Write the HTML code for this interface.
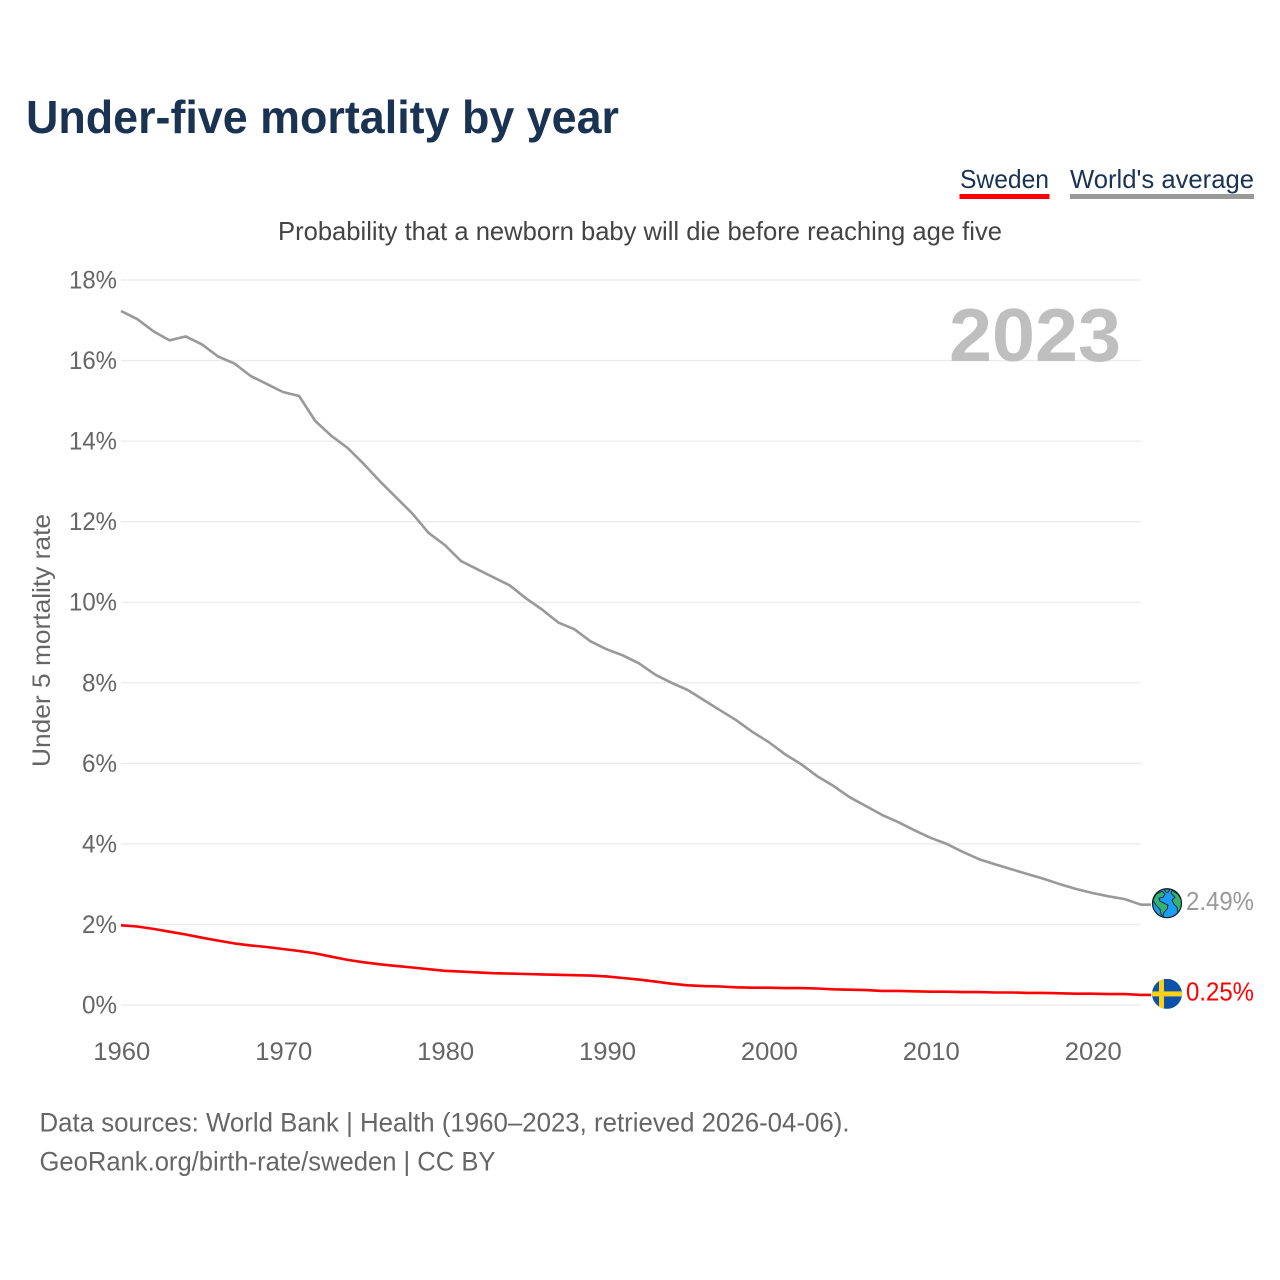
<!DOCTYPE html>
<html lang="en">
<head>
<meta charset="utf-8">
<title>Under-five mortality by year</title>
<style>
html,body{margin:0;padding:0;background:#fff;}
svg{display:block;}
text{font-family:"Liberation Sans",sans-serif;}
</style>
</head>
<body>
<svg id="chart" xmlns="http://www.w3.org/2000/svg" width="1280" height="1280" viewBox="0 0 1280 1280">
  <rect x="0" y="0" width="1280" height="1280" fill="#fff"/>
  <text x="26" y="133" font-size="46" font-weight="700" fill="#1a3353" textLength="593" lengthAdjust="spacingAndGlyphs">Under-five mortality by year</text>

  <g>
    <text x="960" y="188" font-size="26" fill="#1a3353" textLength="89" lengthAdjust="spacingAndGlyphs">Sweden</text>
    <rect x="959.5" y="194" width="90" height="5" fill="#ff0000"/>
  </g>
  <g>
    <text x="1070" y="188" font-size="26" fill="#1a3353" textLength="184" lengthAdjust="spacingAndGlyphs">World's average</text>
    <rect x="1070" y="194" width="184" height="5" fill="#999999"/>
  </g>

  <text x="278" y="240" font-size="26" fill="#444444" textLength="724" lengthAdjust="spacingAndGlyphs">Probability that a newborn baby will die before reaching age five</text>

  <g id="grid"></g>
  <text x="949" y="361" font-size="75" font-weight="700" fill="#bfbfbf" textLength="172" lengthAdjust="spacingAndGlyphs">2023</text>
  <g id="yticks"></g>
  <g id="xticks"></g>
  <text transform="translate(50,640.5) rotate(-90)" text-anchor="middle" font-size="25" fill="#666666" textLength="253" lengthAdjust="spacingAndGlyphs">Under 5 mortality rate</text>

  <polyline id="world-line" fill="none" stroke="#999999" stroke-width="2.6" stroke-linejoin="round"/>
  <polyline id="sweden-line" fill="none" stroke="#ff0000" stroke-width="2.6" stroke-linejoin="round"/>

  <defs>
    <clipPath id="flag-clip"><circle cx="0" cy="0" r="15"/></clipPath>
    <clipPath id="globe-clip"><circle cx="0" cy="0" r="14.5"/></clipPath>
  </defs>

  <g id="world-icon">
    <circle cx="0" cy="0" r="14.5" fill="#1e9bf5"/>
    <g clip-path="url(#globe-clip)" fill="#2fb56f" stroke="#123" stroke-width="0.9">
      <path d="M-14,-3 L-11,-9 L-5,-12 L-2,-9 L-4,-6 L-8,-5 L-7,-2 L-3,0 L1,2 L0,6 L-3,9 L-4,13 L-6,11 L-7,6 L-11,2 Z"/>
      <path d="M5,-13 L11,-9 L15,-2 L14,8 L11,10 L10,4 L7,1 L5,-3 L8,-6 L4,-10 Z"/>
      <path d="M-3,-14 L3,-14 L1,-11 L-1,-11 Z"/>
    </g>
    <circle cx="0" cy="0" r="14.5" fill="none" stroke="#101820" stroke-width="1.2"/>
  </g>

  <g id="sweden-icon">
    <g clip-path="url(#flag-clip)">
      <rect x="-15" y="-15" width="30" height="30" fill="#0b52a8"/>
      <rect x="-8" y="-15" width="5" height="30" fill="#fcd116"/>
      <rect x="-15" y="-2.5" width="30" height="5" fill="#fcd116"/>
    </g>
  </g>

  <text id="world-value" x="1186" font-size="26" fill="#999999" textLength="68" lengthAdjust="spacingAndGlyphs"></text>
  <text id="sweden-value" x="1186" font-size="26" fill="#ff0000" textLength="68" lengthAdjust="spacingAndGlyphs"></text>

  <text x="39.5" y="1131.5" font-size="27" fill="#666666" textLength="810" lengthAdjust="spacingAndGlyphs">Data sources: World Bank | Health (1960–2023, retrieved 2026-04-06).</text>
  <text x="39.5" y="1170.5" font-size="27" fill="#666666" textLength="456" lengthAdjust="spacingAndGlyphs">GeoRank.org/birth-rate/sweden | CC BY</text>
</svg>
<script>
const startYear = 1960;
const endYear = 2023;
const yTickValues = [0, 2, 4, 6, 8, 10, 12, 14, 16, 18];
const xTickValues = [1960, 1970, 1980, 1990, 2000, 2010, 2020];
const worldValues = [
  17.23, 17.03, 16.73, 16.50, 16.60, 16.40, 16.10, 15.93, 15.62, 15.42,
  15.22, 15.12, 14.50, 14.13, 13.83, 13.43, 13.00, 12.60, 12.20, 11.72,
  11.42, 11.02, 10.82, 10.62, 10.42, 10.10, 9.82, 9.50, 9.33, 9.03,
  8.83, 8.68, 8.48, 8.20, 8.00, 7.82, 7.57, 7.32, 7.07, 6.78,
  6.53, 6.23, 5.98, 5.68, 5.44, 5.16, 4.94, 4.72, 4.54, 4.34,
  4.15, 4.00, 3.80, 3.62, 3.49, 3.37, 3.25, 3.13, 3.00, 2.88,
  2.78, 2.70, 2.63, 2.49
];
const swedenValues = [
  1.98, 1.95, 1.89, 1.82, 1.75, 1.67, 1.60, 1.53, 1.48, 1.44,
  1.39, 1.34, 1.28, 1.20, 1.12, 1.06, 1.01, 0.97, 0.93, 0.89,
  0.85, 0.83, 0.81, 0.79, 0.78, 0.77, 0.76, 0.75, 0.74, 0.73,
  0.71, 0.67, 0.63, 0.58, 0.53, 0.49, 0.47, 0.46, 0.44, 0.43,
  0.43, 0.42, 0.42, 0.41, 0.39, 0.38, 0.37, 0.35, 0.35, 0.34,
  0.33, 0.33, 0.32, 0.32, 0.31, 0.31, 0.30, 0.30, 0.29, 0.28,
  0.28, 0.27, 0.27, 0.25
];

const NS = 'http://www.w3.org/2000/svg';
const plotLeft = 121, plotRight = 1141, plotBottom = 1005, plotTop = 280, yMax = 18;
function xScale(year) {
  return plotLeft + (year - startYear) * (plotRight - plotLeft) / (endYear - startYear);
}
function yScale(value) {
  return plotBottom - value * (plotBottom - plotTop) / yMax;
}
function linePoints(values) {
  const pts = values.map(function (v, i) {
    return xScale(startYear + i).toFixed(1) + ',' + yScale(v).toFixed(1);
  });
  const last = values[values.length - 1];
  pts.push((plotRight + 10) + ',' + yScale(last).toFixed(1));
  return pts.join(' ');
}

const grid = document.getElementById('grid');
const yTicks = document.getElementById('yticks');
const xTicks = document.getElementById('xticks');

yTickValues.forEach(function (v) {
  const line = document.createElementNS(NS, 'line');
  
  
  line.setAttribute('x1', plotLeft);
  line.setAttribute('x2', plotRight);
  line.setAttribute('y1', yScale(v));
  line.setAttribute('y2', yScale(v));
  line.setAttribute('stroke', '#ebebeb');
  line.setAttribute('stroke-width', '1.3');
  grid.appendChild(line);

  const label = document.createElementNS(NS, 'text');
  
  
  label.setAttribute('x', 117);
  label.setAttribute('y', yScale(v) + 8.5);
  label.setAttribute('text-anchor', 'end');
  label.setAttribute('font-size', '25');
  label.setAttribute('fill', '#666666');
  label.setAttribute('textLength', v >= 10 ? 48 : 35);
  label.setAttribute('lengthAdjust', 'spacingAndGlyphs');
  label.textContent = v + '%';
  yTicks.appendChild(label);
});

xTickValues.forEach(function (year) {
  const label = document.createElementNS(NS, 'text');
  
  
  label.setAttribute('x', xScale(year) + 0.8);
  label.setAttribute('y', 1060);
  label.setAttribute('text-anchor', 'middle');
  label.setAttribute('font-size', '25');
  label.setAttribute('fill', '#666666');
  label.setAttribute('textLength', 57);
  label.setAttribute('lengthAdjust', 'spacingAndGlyphs');
  label.textContent = year;
  xTicks.appendChild(label);
});

document.getElementById('world-line').setAttribute('points', linePoints(worldValues));
document.getElementById('sweden-line').setAttribute('points', linePoints(swedenValues));

const worldLast = worldValues[worldValues.length - 1];
const swedenLast = swedenValues[swedenValues.length - 1];
document.getElementById('world-icon').setAttribute('transform', 'translate(1167,' + (yScale(worldLast) - 1.5).toFixed(1) + ')');
document.getElementById('sweden-icon').setAttribute('transform', 'translate(1167,' + (yScale(swedenLast) - 1).toFixed(1) + ')');
const worldValue = document.getElementById('world-value');
worldValue.setAttribute('y', (yScale(worldLast) + 5.5).toFixed(1));
worldValue.textContent = worldLast.toFixed(2) + '%';
const swedenValue = document.getElementById('sweden-value');
swedenValue.setAttribute('y', (yScale(swedenLast) + 5.5).toFixed(1));
swedenValue.textContent = swedenLast.toFixed(2) + '%';
</script>
</body>
</html>
